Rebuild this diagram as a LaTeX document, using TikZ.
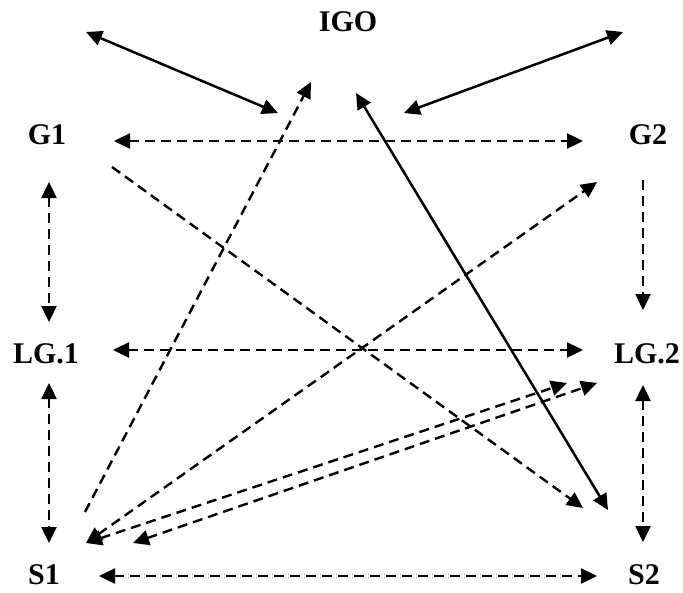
\documentclass[tikz,border=0pt]{standalone}
\usepackage{fontspec}
\setmainfont{Liberation Serif}
\usetikzlibrary{arrows.meta,calc}
\begin{document}
\begin{tikzpicture}[x=1pt,y=-1pt,
  lbl/.style={font=\bfseries\fontsize{30}{36}\selectfont, inner sep=0pt},
  con/.style={line width=2.4pt},
  dsh/.style={con, dash pattern=on 10pt off 6pt},
  sol/.style={con, line width=2.5pt},
  both/.style={{Triangle[length=16pt,width=15pt]}-{Triangle[length=16pt,width=15pt]}},
  fwd/.style={-{Triangle[length=16pt,width=15pt]}}]
\useasboundingbox (0,0) rectangle (683,592);
\node[lbl] (IGO) at (348,22) {IGO};
\node[lbl] (G1) at (47,135) {G1};
\node[lbl] (G2) at (648,135) {G2};
\node[lbl] (LG1) at (46,354) {LG.1};
\node[lbl] (LG2) at (647,354) {LG.2};
\node[lbl] (S1) at (44,575) {S1};
\node[lbl] (S2) at (644,575) {S2};
\coordinate (A) at (86,32);
\coordinate (B) at (623,32);
% solid connectors
\draw[sol,both] (A) -- ($(IGO)+(-70,91)$);
\draw[sol,both] ($(IGO)+(56,91)$) -- (B);
\draw[sol,both] ($(IGO)+(8,71)$) -- ($(S2)+(-36,-65)$);
% dashed connectors
\draw[dsh,both] ($(G1)+(67,6)$) -- ($(G2)+(-65,6)$);
\draw[dsh,fwd] ($(G1)+(65,32)$) -- ($(S2)+(-61,-67)$);
\draw[dsh,both] ($(G1)+(2,47)$) -- ($(LG1)+(3,-32)$);
\draw[dsh,fwd] ($(G2)+(-5,45)$) -- ($(LG2)+(-4,-44)$);
\draw[dsh,both] ($(LG1)+(67,-4)$) -- ($(LG2)+(-64,-4)$);
\draw[dsh,both] ($(LG1)+(3,29)$) -- ($(S1)+(5,-32)$);
\draw[dsh,both] ($(LG2)+(-4,31)$) -- ($(S2)+(-1,-33)$);
\draw[dsh,both] ($(S1)+(55,1)$) -- ($(S2)+(-47,1)$);
\draw[dsh,fwd] ($(S1)+(41,-63)$) -- ($(IGO)+(-37,60)$);
\draw[dsh,both] ($(S1)+(42,-32)$) -- ($(G2)+(-51,47)$);
\draw[dsh,both] ($(S1)+(42,-32)$) -- ($(LG2)+(-80,29)$);
\draw[dsh,both] ($(S1)+(89,-32)$) -- ($(LG2)+(-50,29)$);
\end{tikzpicture}
\end{document}
